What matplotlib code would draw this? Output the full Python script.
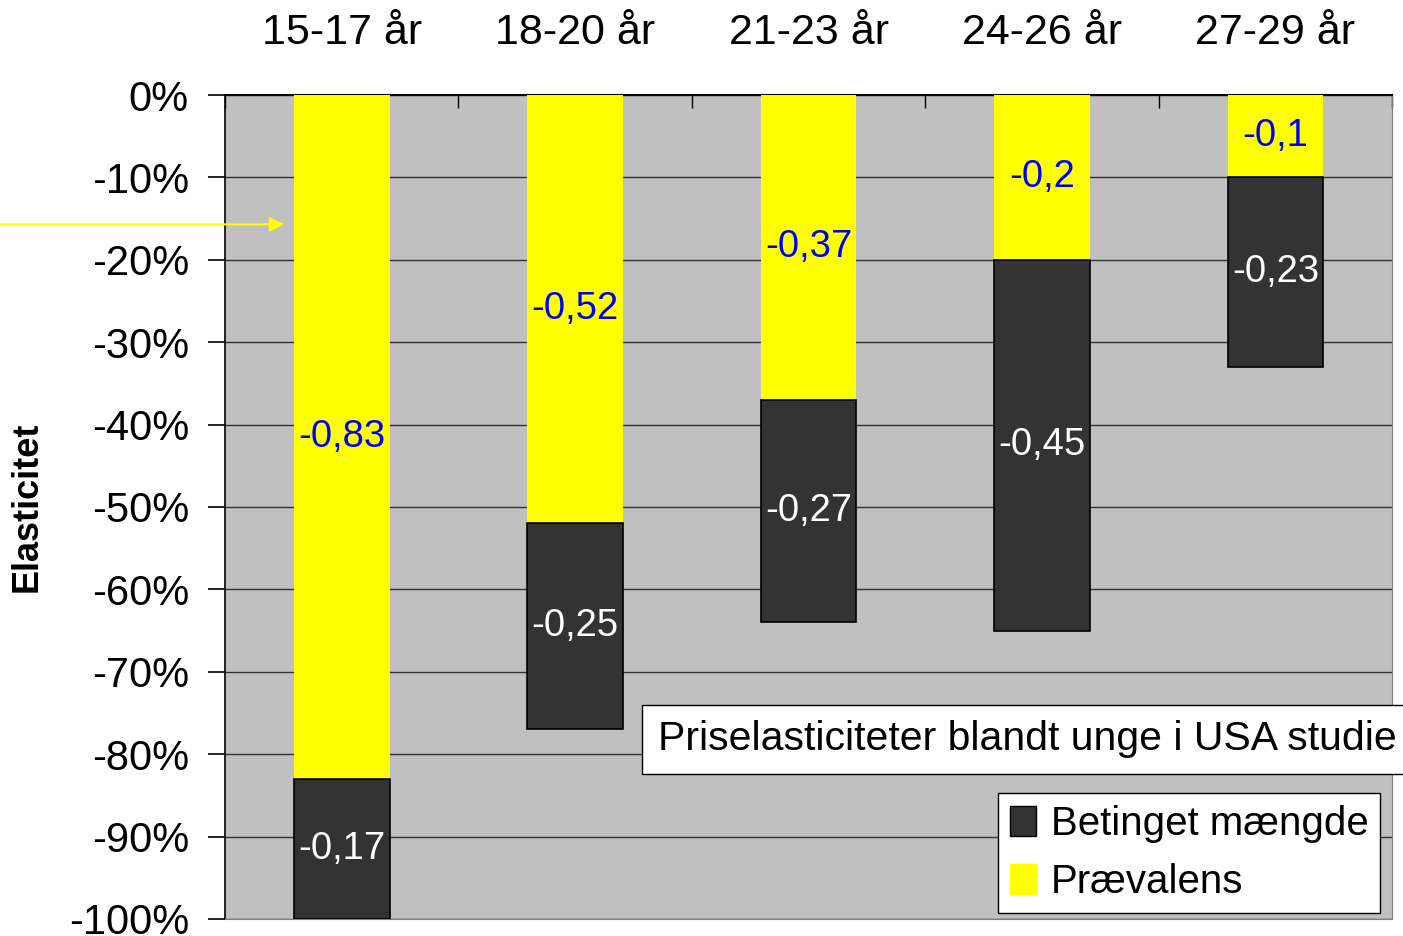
import numpy as np
import matplotlib.pyplot as plt
from matplotlib.patches import Patch

plt.rcParams['font.family'] = ['Liberation Sans', 'DejaVu Sans']

categories = ['15-17 år', '18-20 år', '21-23 år', '24-26 år', '27-29 år']
praevalens = [-0.83, -0.52, -0.37, -0.20, -0.10]
betinget = [-0.17, -0.25, -0.27, -0.45, -0.23]

yellow = '#FFFF00'
dark = '#333333'

fig = plt.figure(figsize=(14.03, 9.36), dpi=100)
ax = fig.add_axes([0.1604, 0.0182, 0.8318, 0.8803])
ax.set_facecolor('#C0C0C0')

x = np.arange(len(categories))
w = 0.41
b1 = ax.bar(x, praevalens, w, color=yellow, zorder=3)
b2 = ax.bar(x, betinget, w, bottom=praevalens, color=dark, edgecolor='black',
            linewidth=1.2, zorder=3)

def fmt(v):
    return f'{v:g}'.replace('.', ',')

for xi, p, b in zip(x, praevalens, betinget):
    ax.text(xi, p / 2, fmt(p), ha='center', va='center', color='#0000FF',
            fontsize=27.5, zorder=4)
    ax.text(xi, p + b / 2, fmt(b), ha='center', va='center', color='white',
            fontsize=27.5, zorder=4)

ax.set_xlim(-0.5, len(categories) - 0.5)
ax.set_ylim(-1.0, 0)
ax.set_yticks(np.arange(-1.0, 0.01, 0.1))
ax.set_yticklabels([f'{int(round(v * 100))}%' for v in np.arange(-1.0, 0.01, 0.1)],
                   fontsize=30)
ax.yaxis.grid(True, color='#333333', linewidth=1.0, zorder=1)
ax.set_axisbelow(True)
ax.tick_params(axis='y', direction='out', length=12, width=1.2, pad=14)

ax.xaxis.tick_top()
ax.set_xticks(x)
ax.set_xticklabels(categories, fontsize=31)
ax.set_xticks(np.arange(-0.5, len(categories)), minor=True)
ax.tick_params(axis='x', which='major', length=0, pad=30)
ax.tick_params(axis='x', which='minor', direction='in', length=9, width=1, top=True, bottom=False)

ax.spines['top'].set_color('black')
ax.spines['top'].set_linewidth(1.5)
ax.spines['left'].set_color('black')
ax.spines['left'].set_linewidth(1.2)
ax.spines['right'].set_color('#808080')
ax.spines['bottom'].set_color('#808080')

ax.set_ylabel('Elasticitet', fontsize=26, fontweight='bold')
ax.yaxis.set_label_coords(-0.155, 0.5)

ax.text(0.371, 0.218, 'Priselasticiteter blandt unge i USA studie', transform=ax.transAxes,
        fontsize=29.5, ha='left', va='center', clip_on=False, zorder=6,
        bbox=dict(boxstyle='square,pad=0.38', facecolor='white', edgecolor='black', linewidth=1))

handles = [Patch(facecolor=dark, edgecolor='black'), Patch(facecolor=yellow, edgecolor=yellow)]
leg = ax.legend(handles, ['Betinget mængde', 'Prævalens'], loc='upper right',
                bbox_to_anchor=(0.990, 0.153), fontsize=29, frameon=True, fancybox=False,
                framealpha=1, edgecolor='black', handlelength=0.65, handleheight=0.75,
                handletextpad=0.35, borderpad=0.3, labelspacing=0.5, borderaxespad=0)
leg.get_frame().set_linewidth(1)
leg.set_zorder(6)

ax.annotate('', xy=(-0.234, -0.157), xycoords='data',
            xytext=(-0.2, -0.157), textcoords=('axes fraction', 'data'),
            arrowprops=dict(arrowstyle='-|>', color='#FFFF00', lw=1.5, mutation_scale=22),
            annotation_clip=False, zorder=5)

fig.savefig('out.png', dpi=100)
